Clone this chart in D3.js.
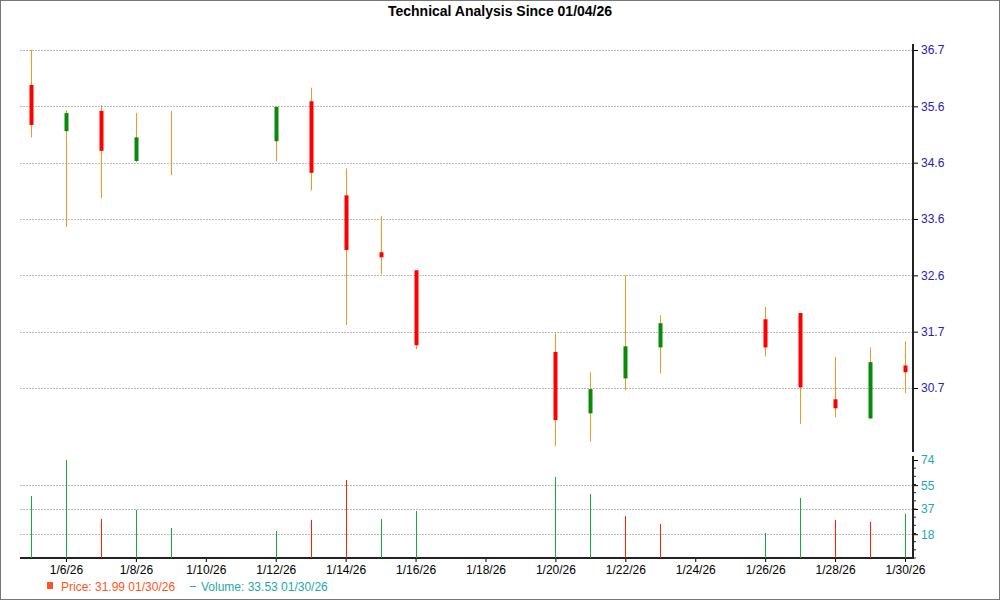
<!DOCTYPE html>
<html><head><meta charset="utf-8">
<script src="https://cdn.jsdelivr.net/npm/d3@7"></script>
<style>body{margin:0;background:#fff}svg{font-family:"Liberation Sans",Arial,sans-serif}</style>
</head><body><div id="chart"></div>
<script>
const dates = ["2026-01-05","2026-01-06","2026-01-07","2026-01-08","2026-01-09","2026-01-12","2026-01-13","2026-01-14","2026-01-15","2026-01-16","2026-01-20","2026-01-21","2026-01-22","2026-01-23","2026-01-26","2026-01-27","2026-01-28","2026-01-29","2026-01-30"];
const opens  = [36.08,35.26,35.62,34.73,35.05,35.08,35.79,34.12,33.11,32.79,31.34,30.25,30.87,31.42,31.92,32.03,30.50,30.16,31.10];
const highs  = [36.70,35.63,35.72,35.58,35.62,35.71,36.03,34.60,33.75,32.79,31.67,30.98,32.70,31.99,32.14,32.03,31.25,31.42,31.53];
const lows   = [35.15,33.56,34.07,34.71,34.48,34.73,34.21,31.82,32.72,31.39,29.67,29.75,30.66,30.96,31.26,30.06,30.18,30.15,30.61];
const closes = [35.37,35.58,34.91,35.15,35.05,35.69,34.52,33.15,33.02,31.46,30.13,30.68,31.44,31.85,31.42,30.71,30.34,31.16,30.98];
const volumes = [46.8,74,29.5,36.3,22.7,20.4,28.7,58.9,29.5,35.5,61.2,48.3,31.7,25.7,18.9,45.3,28.7,27.2,33.2];
const volUp = [1,1,0,1,1,1,0,0,1,1,1,1,0,0,1,1,0,0,1];
const priceTicks = [30.7,31.7,32.7,33.7,34.7,35.7,36.7];
const priceLabels = ["30.7","31.7","32.6","33.6","34.6","35.6","36.7"];
const volTicks = [18,37,55,74];
const xTicks = ["2026-01-06","2026-01-08","2026-01-10","2026-01-12","2026-01-14","2026-01-16","2026-01-18","2026-01-20","2026-01-22","2026-01-24","2026-01-26","2026-01-28","2026-01-30"];

const W = 1000, H = 600, left = 20, right = 913;
const parse = d3.timeParse("%Y-%m-%d");
const svg = d3.select("#chart").append("svg").attr("width", W).attr("height", H);
svg.append("rect").attr("x",0.5).attr("y",0.5).attr("width",W-1).attr("height",H-1)
  .attr("fill","#fff").attr("stroke","#777");

const x = d3.scaleTime().domain([parse("2026-01-05"), parse("2026-01-30")]).range([31, 905]);
const y = d3.scaleLinear().domain([30.7, 36.7]).range([388, 50]);
const yv = d3.scaleLinear().domain([0, 74]).range([558, 460]);

svg.append("text").attr("x", W/2).attr("y", 16).attr("text-anchor","middle")
  .style("font-size","14px").style("font-weight","bold").text("Technical Analysis Since 01/04/26");

// grid
svg.append("g").selectAll("line").data(priceTicks).join("line")
  .attr("x1", left).attr("x2", right).attr("y1", d => Math.round(y(d))+0.5).attr("y2", d => Math.round(y(d))+0.5)
  .attr("stroke","#bbb").attr("stroke-dasharray","2,1");
svg.append("g").selectAll("line").data(volTicks.slice(0,3)).join("line")
  .attr("x1", left).attr("x2", right).attr("y1", d => Math.round(yv(d))+0.5).attr("y2", d => Math.round(yv(d))+0.5)
  .attr("stroke","#bbb").attr("stroke-dasharray","2,1");

// price axis
const pa = svg.append("g").attr("transform", `translate(${right},0)`)
  .call(d3.axisRight(y).tickValues(priceTicks).tickFormat((d,i) => priceLabels[i]).tickSize(5).tickSizeOuter(0));
pa.select(".domain").remove();
pa.append("line").attr("y1",44).attr("y2",452).attr("stroke","#222").attr("stroke-width",2);
pa.selectAll("text").attr("fill","#2222bb").style("font-size","12px").attr("x",8);

// volume axis
const va = svg.append("g").attr("transform", `translate(${right},0)`)
  .call(d3.axisRight(yv).tickValues(volTicks).tickSize(5).tickSizeOuter(0));
va.select(".domain").remove();
va.append("line").attr("y1",456).attr("y2",559).attr("stroke","#222").attr("stroke-width",2);
va.selectAll("text").attr("fill","#22aaaa").style("font-size","12px").attr("x",8);
va.selectAll(".minor").data(d3.range(0, 74, 74/12)).join("line").attr("class","minor")
  .attr("x1",0).attr("x2",3).attr("y1", d => yv(d)).attr("y2", d => yv(d)).attr("stroke","#222");

// x axis
const xa = svg.append("g").attr("transform", "translate(0,558)")
  .call(d3.axisBottom(x).tickValues(xTicks.map(parse)).tickFormat(d3.timeFormat("%-m/%-d/%y")).tickSize(4).tickSizeOuter(0));
xa.select(".domain").remove();
xa.append("line").attr("x1",left).attr("x2",right).attr("stroke","#222").attr("stroke-width",2);
xa.selectAll("text").style("font-size","12px").attr("fill","#000");

// candles
const c = svg.append("g").selectAll("g").data(dates).join("g");
c.append("line").attr("x1", d => Math.round(x(parse(d)))+0.5).attr("x2", d => Math.round(x(parse(d)))+0.5)
  .attr("y1", (d,i) => y(highs[i])).attr("y2", (d,i) => y(lows[i])).attr("stroke","#f39a1e");
c.filter((d,i) => opens[i] !== closes[i]).append("rect")
  .attr("x", d => Math.round(x(parse(d))) - 1.5).attr("width", 4)
  .attr("y", function(d) { const i = dates.indexOf(d); return y(Math.max(opens[i], closes[i])); })
  .attr("height", function(d) { const i = dates.indexOf(d); return Math.abs(y(opens[i]) - y(closes[i])); })
  .attr("fill", d => { const i = dates.indexOf(d); return closes[i] > opens[i] ? "#0a8a0a" : "#ff0000"; });

// volume
svg.append("g").selectAll("line").data(dates).join("line")
  .attr("x1", d => Math.round(x(parse(d)))+0.5).attr("x2", d => Math.round(x(parse(d)))+0.5)
  .attr("y1", 558).attr("y2", (d,i) => yv(volumes[i]))
  .attr("stroke", (d,i) => volUp[i] ? "#1aaa3a" : "#ff2200");

// legend
const lg = svg.append("g").style("font-size","12px");
lg.append("rect").attr("x",47).attr("y",582).attr("width",6).attr("height",7).attr("fill","#ff5522");
lg.append("text").attr("x",61).attr("y",591).attr("fill","#ff5522").text("Price: 31.99  01/30/26");
lg.append("line").attr("x1",190).attr("x2",196).attr("y1",586.5).attr("y2",586.5).attr("stroke","#22aaaa");
lg.append("text").attr("x",201).attr("y",591).attr("fill","#22aaaa").text("Volume: 33.53  01/30/26");
</script></body></html>
